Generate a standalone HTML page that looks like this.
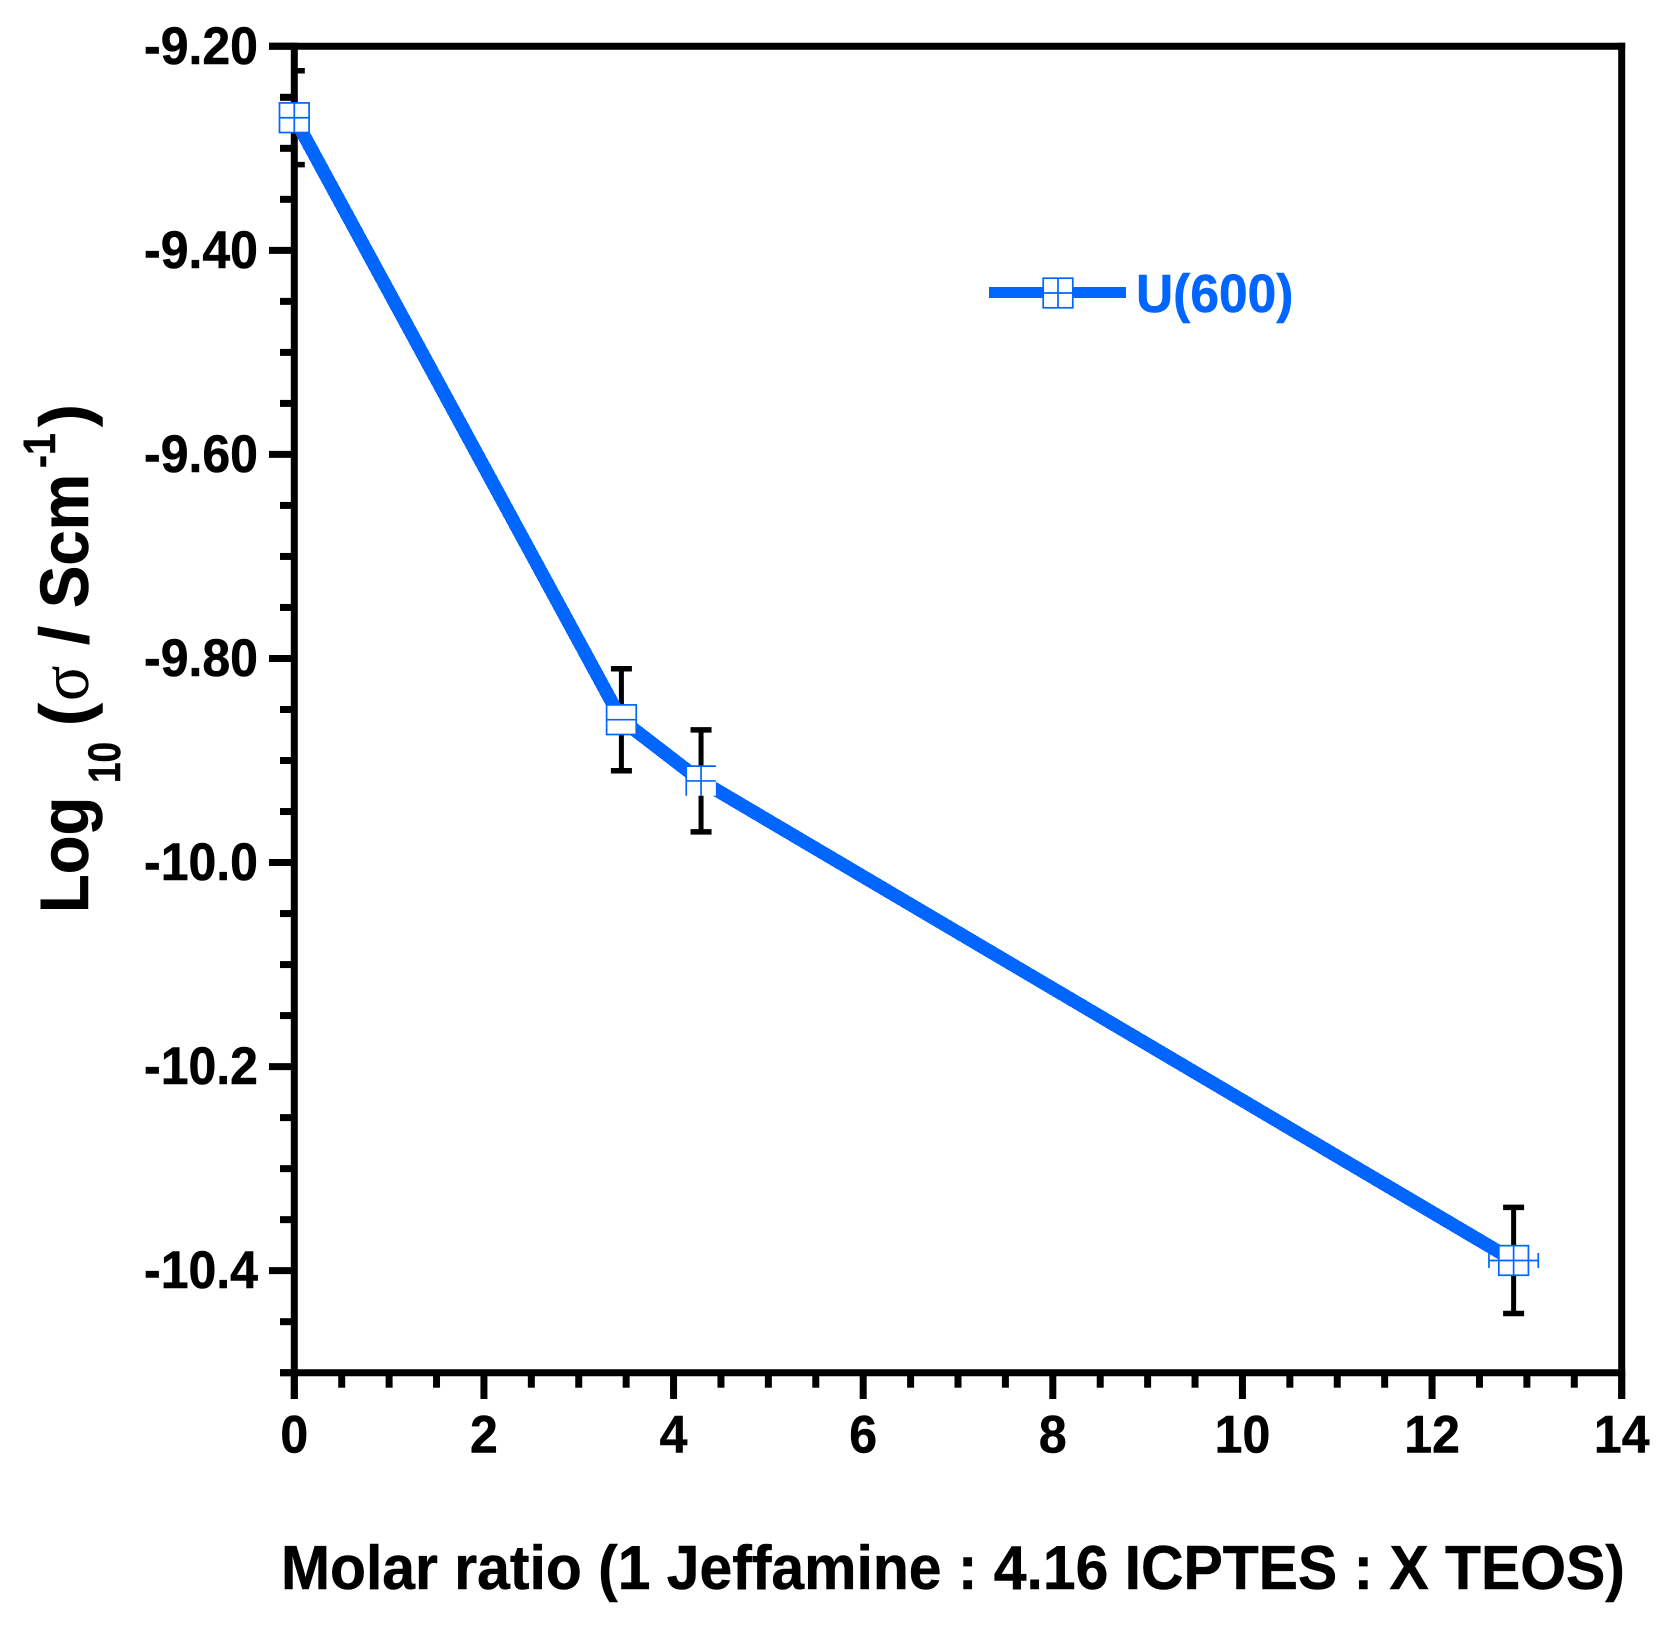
<!DOCTYPE html>
<html lang="en">
<head>
<meta charset="utf-8">
<title>Log10 conductivity vs molar ratio</title>
<style>
html,body{margin:0;padding:0;background:#fff;}
svg{display:block;}
text{font-family:"Liberation Sans",sans-serif;font-weight:bold;fill:#000;stroke:#000;stroke-width:.5;}
</style>
</head>
<body>
<svg id="chart" xmlns="http://www.w3.org/2000/svg" width="1670" height="1626" viewBox="0 0 1670 1626">
<defs><clipPath id="plot-clip"><rect id="plot-clip-rect" x="0" y="0" width="0" height="0"></rect></clipPath></defs>
<rect x="0" y="0" width="1670" height="1626" fill="#fff"></rect>
<g id="axes"></g>
<g id="series"></g>
<g id="legend"></g>
<text transform="translate(281,1589) scale(0.981,1.03)" font-size="60">Molar ratio (1 Jeffamine : 4.16 ICPTES : X TEOS)</text>
<g>
<text transform="translate(88,913) rotate(-90) scale(0.92,1)" font-size="69">Log</text>
<text transform="translate(120,783) rotate(-90) scale(0.82,1)" font-size="45">10</text>
<text transform="translate(88,726) rotate(-90)" font-size="69">(</text>
<text transform="translate(88,701) rotate(-90) scale(0.95,1)" font-size="69" style="font-family:'Liberation Serif',serif;font-weight:normal;stroke-width:.3">σ</text>
<text transform="translate(88,645) rotate(-90)" font-size="69">/</text>
<text transform="translate(88,608) rotate(-90) scale(0.92,1)" font-size="69">Scm</text>
<text transform="translate(55,468) rotate(-90) scale(0.87,1)" font-size="45">-1</text>
<text transform="translate(88,427) rotate(-90)" font-size="69">)</text>
</g>
</svg>
<script>
const xValues = [0, 3.45, 4.29, 12.86];
const yValues = [-9.27, -9.86, -9.92, -10.39];
const yErrors = [0.046, 0.05, 0.05, 0.052];
const xErrors = [0, 0, 0, 0.26];
const markerVariants = ['full', 'hline', 'open', 'full'];
const xTickValues = [0, 2, 4, 6, 8, 10, 12, 14];
const xTickLabels = ['0', '2', '4', '6', '8', '10', '12', '14'];
const yTickValues = [-9.2, -9.4, -9.6, -9.8, -10.0, -10.2, -10.4];
const yTickLabels = ['-9.20', '-9.40', '-9.60', '-9.80', '-10.0', '-10.2', '-10.4'];
const seriesName = 'U(600)';

const BLUE = '#0066ff';
const NS = 'http://www.w3.org/2000/svg';
const xAt = v => 294.3 + (v / 14) * (1621.7 - 294.3);
const yAt = v => 46.3 + ((-9.2 - v) / 1.3) * (1372.7 - 46.3);

function make(tag, attrs, parent) {
  const el = document.createElementNS(NS, tag);
  for (const k in attrs) el.setAttribute(k, attrs[k]);
  parent.appendChild(el);
  return el;
}
function blackLine(x1, y1, x2, y2, w, parent) {
  return make('line', {x1: x1, y1: y1, x2: x2, y2: y2, stroke: '#000', 'stroke-width': w}, parent);
}
function drawMarker(cx, cy, variant, parent) {
  const r = 14.8;
  const g = make('g', {}, parent);
  
  
  make('rect', {x: cx - r, y: cy - r, width: 2 * r, height: 2 * r, fill: '#fff'}, g);
  const s = {stroke: BLUE, 'stroke-width': 1.7, fill: 'none'};
  if (variant === 'open') {
    make('path', Object.assign({d: 'M' + (cx - r) + ' ' + (cy + r) + 'V' + (cy - r) + 'H' + (cx + r)}, s), g);
  } else {
    make('rect', Object.assign({x: cx - r, y: cy - r, width: 2 * r, height: 2 * r}, s), g);
  }
  make('line', Object.assign({x1: cx - r, y1: cy, x2: cx + r, y2: cy}, s), g);
  if (variant !== 'hline') {
    make('line', Object.assign({x1: cx, y1: cy - r, x2: cx, y2: cy + r}, s), g);
  }
}

const axes = document.getElementById('axes');
const series = document.getElementById('series');
const legend = document.getElementById('legend');

const clipRect = document.getElementById('plot-clip-rect');
clipRect.setAttribute('x', xAt(0));
clipRect.setAttribute('y', yAt(-9.2));
clipRect.setAttribute('width', xAt(14) - xAt(0));
clipRect.setAttribute('height', yAt(-10.5) - yAt(-9.2));

/* minor ticks */
for (let v = 0.5; v < 14; v += 0.5) {
  if (v % 2 === 0) continue;
  const t = blackLine(xAt(v), yAt(-10.5), xAt(v), 1387.7, 7, axes);
  
  
}
for (let i = 1; i <= 26; i++) {
  if (i % 4 === 0) continue;
  const v = -9.2 - i * 0.05;
  const t = blackLine(280, yAt(v), xAt(0), yAt(v), 7, axes);
  
  
}

/* major ticks and labels */
xTickValues.forEach((v, i) => {
  const t = blackLine(xAt(v), yAt(-10.5), xAt(v), 1399, 7, axes);
  
  
  const l = make('text', {transform: 'translate(' + xAt(v) + ',1452.5) scale(1,1.05)', 'font-size': 50, 'text-anchor': 'middle'}, axes);
  l.textContent = xTickLabels[i];
  
  
});
yTickValues.forEach((v, i) => {
  const t = blackLine(269, yAt(v), xAt(0), yAt(v), 7, axes);
  
  
  const l = make('text', {transform: 'translate(258,' + (yAt(v) + 17.5) + ') scale(1,1.05)', 'font-size': 50, 'text-anchor': 'end'}, axes);
  l.textContent = yTickLabels[i];
  
  
});

/* spines */
const leftSpine = blackLine(xAt(0), yAt(-9.2) - 3.5, xAt(0), 1399, 7, axes);


const rightSpine = blackLine(xAt(14), yAt(-9.2) - 3.5, xAt(14), 1399, 7, axes);


const topSpine = blackLine(269, yAt(-9.2), xAt(14) + 3.5, yAt(-9.2), 7, axes);


const bottomSpine = blackLine(280, yAt(-10.5), xAt(14) + 3.5, yAt(-10.5), 7, axes);



/* error bars */
xValues.forEach((xv, i) => {
  const g = make('g', {'clip-path': 'url(#plot-clip)'}, series);
  
  
  const cx = xAt(xv);
  const top = yAt(yValues[i] + yErrors[i]);
  const bot = yAt(yValues[i] - yErrors[i]);
  blackLine(cx, top, cx, bot, 5, g);
  blackLine(cx - 10.5, top, cx + 10.5, top, 5.5, g);
  blackLine(cx - 10.5, bot, cx + 10.5, bot, 5.5, g);
});

/* data line */
const linePath = make('polyline', {
  points: xValues.map((xv, i) => xAt(xv) + ',' + yAt(yValues[i])).join(' '),
  fill: 'none', stroke: BLUE, 'stroke-width': 13.5, 'stroke-linejoin': 'miter', 'shape-rendering': 'crispEdges'
}, series);



/* horizontal error bars */
xValues.forEach((xv, i) => {
  if (!xErrors[i]) return;
  const g = make('g', {stroke: BLUE, 'stroke-width': 1.7}, series);
  
  
  const y = yAt(yValues[i]);
  const a = xAt(xv - xErrors[i]);
  const b = xAt(xv + xErrors[i]);
  make('line', {x1: a, y1: y, x2: b, y2: y}, g);
  make('line', {x1: a, y1: y - 7.5, x2: a, y2: y + 7.5}, g);
  make('line', {x1: b, y1: y - 7.5, x2: b, y2: y + 7.5}, g);
});

/* markers */
xValues.forEach((xv, i) => {
  drawMarker(xAt(xv), yAt(yValues[i]), markerVariants[i], series);
});

/* legend */
const legendLine = make('line', {x1: 989, y1: 292.5, x2: 1126, y2: 292.5, stroke: BLUE, 'stroke-width': 11}, legend);


drawMarker(1058, 293, 'full', legend);
const legendText = make('text', {transform: 'translate(1136,312) scale(1.03,1.07)', 'font-size': 50, style: 'fill:' + BLUE + ';stroke:' + BLUE}, legend);
legendText.textContent = seriesName;


</script>
</body>
</html>
